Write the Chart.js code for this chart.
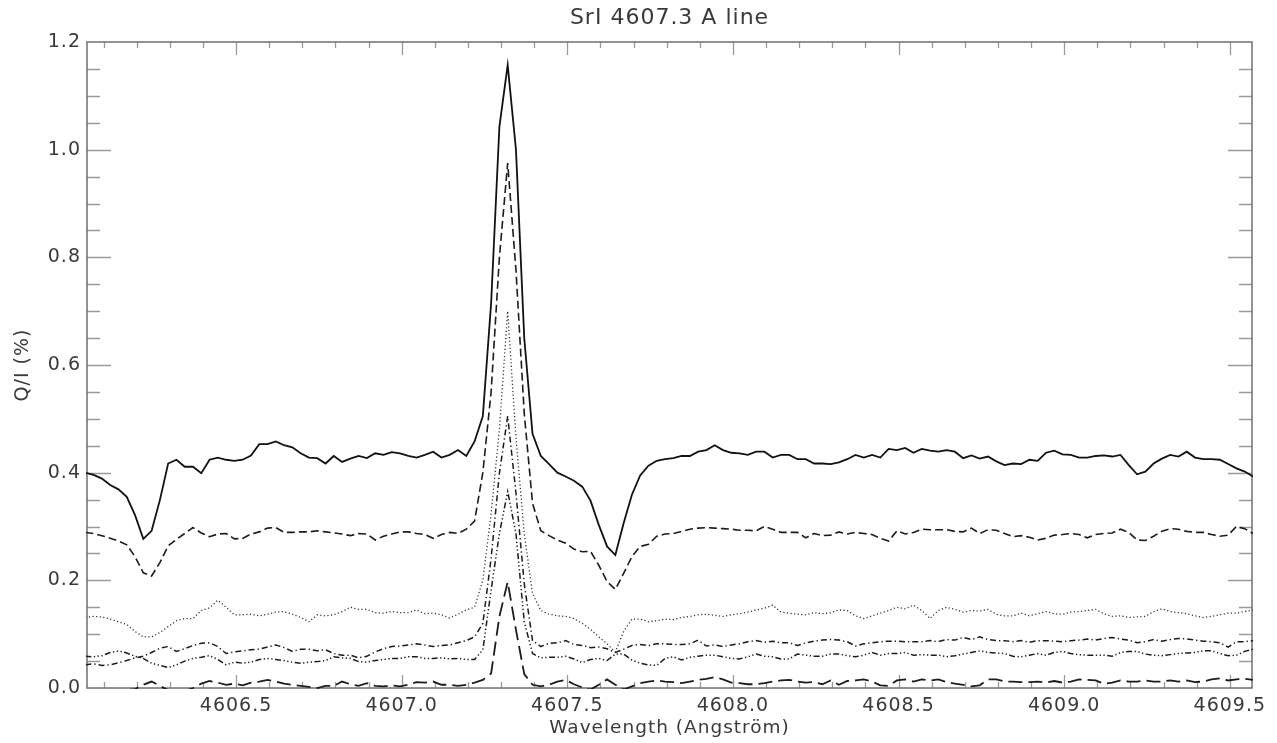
<!DOCTYPE html>
<html>
<head>
<meta charset="utf-8">
<title>SrI 4607.3 A line</title>
<script src="https://cdn.jsdelivr.net/npm/chart.js@4.4.1/dist/chart.umd.min.js"></script>
<style>
  html, body { margin: 0; padding: 0; background: #fff; }
  #wrap { width: 1277px; height: 743px; }
</style>
</head>
<body>
<div id="wrap"><canvas id="srChart" width="1277" height="743"></canvas></div>
<script>
// Wavelength samples (Angstrom)
const wavelength = [
  4606.045, 4606.070, 4606.095, 4606.120, 4606.145, 4606.170, 4606.195, 4606.220, 4606.245, 4606.270,
  4606.295, 4606.320, 4606.345, 4606.370, 4606.395, 4606.420, 4606.445, 4606.470, 4606.495, 4606.520,
  4606.545, 4606.570, 4606.595, 4606.620, 4606.645, 4606.670, 4606.695, 4606.720, 4606.745, 4606.770,
  4606.795, 4606.820, 4606.845, 4606.870, 4606.895, 4606.920, 4606.945, 4606.970, 4606.995, 4607.020,
  4607.045, 4607.070, 4607.095, 4607.120, 4607.145, 4607.170, 4607.195, 4607.220, 4607.245, 4607.270,
  4607.295, 4607.320, 4607.345, 4607.370, 4607.395, 4607.420, 4607.445, 4607.470, 4607.495, 4607.520,
  4607.545, 4607.570, 4607.595, 4607.620, 4607.645, 4607.670, 4607.695, 4607.720, 4607.745, 4607.770,
  4607.795, 4607.820, 4607.845, 4607.870, 4607.895, 4607.920, 4607.945, 4607.970, 4607.995, 4608.020,
  4608.045, 4608.070, 4608.095, 4608.120, 4608.145, 4608.170, 4608.195, 4608.220, 4608.245, 4608.270,
  4608.295, 4608.320, 4608.345, 4608.370, 4608.395, 4608.420, 4608.445, 4608.470, 4608.495, 4608.520,
  4608.545, 4608.570, 4608.595, 4608.620, 4608.645, 4608.670, 4608.695, 4608.720, 4608.745, 4608.770,
  4608.795, 4608.820, 4608.845, 4608.870, 4608.895, 4608.920, 4608.945, 4608.970, 4608.995, 4609.020,
  4609.045, 4609.070, 4609.095, 4609.120, 4609.145, 4609.170, 4609.195, 4609.220, 4609.245, 4609.270,
  4609.295, 4609.320, 4609.345, 4609.370, 4609.395, 4609.420, 4609.445, 4609.470, 4609.495, 4609.520,
  4609.545, 4609.570
];

// Q/I (%) profiles, one per observation
const qSolid = [
  0.400, 0.396, 0.389, 0.377, 0.369, 0.355, 0.321, 0.277, 0.292, 0.349,
  0.417, 0.424, 0.411, 0.411, 0.399, 0.424, 0.428, 0.424, 0.422, 0.424,
  0.432, 0.453, 0.453, 0.458, 0.451, 0.447, 0.436, 0.428, 0.427, 0.417,
  0.431, 0.420, 0.426, 0.431, 0.427, 0.436, 0.433, 0.438, 0.436, 0.431,
  0.428, 0.433, 0.439, 0.428, 0.433, 0.442, 0.431, 0.458, 0.505, 0.715,
  1.043, 1.157, 1.000, 0.650, 0.472, 0.431, 0.416, 0.400, 0.393, 0.385,
  0.374, 0.348, 0.303, 0.263, 0.247, 0.306, 0.359, 0.395, 0.413, 0.422,
  0.425, 0.427, 0.431, 0.431, 0.439, 0.442, 0.451, 0.442, 0.437, 0.436,
  0.433, 0.439, 0.439, 0.428, 0.433, 0.433, 0.425, 0.425, 0.417, 0.417,
  0.416, 0.419, 0.425, 0.433, 0.428, 0.433, 0.428, 0.444, 0.442, 0.446,
  0.437, 0.444, 0.441, 0.439, 0.442, 0.439, 0.427, 0.432, 0.426, 0.430,
  0.421, 0.414, 0.417, 0.416, 0.424, 0.422, 0.437, 0.441, 0.434, 0.433,
  0.428, 0.428, 0.431, 0.432, 0.430, 0.433, 0.414, 0.397, 0.402, 0.417,
  0.426, 0.433, 0.430, 0.439, 0.428, 0.425, 0.425, 0.424, 0.416, 0.408,
  0.402, 0.393
];

const qDashed = [
  0.289, 0.287, 0.283, 0.278, 0.273, 0.266, 0.244, 0.214, 0.208, 0.233,
  0.264, 0.276, 0.287, 0.298, 0.288, 0.281, 0.286, 0.287, 0.277, 0.278,
  0.286, 0.290, 0.297, 0.298, 0.289, 0.289, 0.290, 0.290, 0.292, 0.290,
  0.288, 0.286, 0.283, 0.287, 0.286, 0.275, 0.282, 0.286, 0.290, 0.290,
  0.287, 0.285, 0.278, 0.285, 0.289, 0.287, 0.295, 0.310, 0.400, 0.550,
  0.800, 0.975, 0.776, 0.510, 0.343, 0.292, 0.283, 0.275, 0.269, 0.258,
  0.253, 0.254, 0.228, 0.198, 0.183, 0.213, 0.244, 0.263, 0.267, 0.282,
  0.286, 0.287, 0.291, 0.295, 0.297, 0.298, 0.297, 0.296, 0.295, 0.293,
  0.293, 0.292, 0.300, 0.295, 0.289, 0.289, 0.289, 0.279, 0.287, 0.283,
  0.284, 0.290, 0.286, 0.289, 0.287, 0.285, 0.278, 0.273, 0.292, 0.286,
  0.289, 0.295, 0.294, 0.294, 0.294, 0.291, 0.290, 0.297, 0.287, 0.294,
  0.293, 0.287, 0.281, 0.283, 0.280, 0.275, 0.278, 0.284, 0.285, 0.287,
  0.285, 0.279, 0.285, 0.287, 0.288, 0.295, 0.289, 0.275, 0.274, 0.282,
  0.291, 0.296, 0.295, 0.291, 0.289, 0.289, 0.285, 0.282, 0.284, 0.300,
  0.296, 0.287
];

const qDotted = [
  0.131, 0.133, 0.132, 0.128, 0.123, 0.118, 0.105, 0.095, 0.095, 0.103,
  0.114, 0.125, 0.129, 0.129, 0.144, 0.149, 0.163, 0.150, 0.136, 0.136,
  0.137, 0.134, 0.137, 0.141, 0.142, 0.137, 0.131, 0.123, 0.136, 0.134,
  0.136, 0.142, 0.150, 0.146, 0.146, 0.140, 0.139, 0.142, 0.140, 0.140,
  0.145, 0.138, 0.139, 0.136, 0.130, 0.137, 0.145, 0.150, 0.200, 0.324,
  0.480, 0.700, 0.465, 0.287, 0.175, 0.144, 0.137, 0.134, 0.133, 0.129,
  0.120, 0.109, 0.095, 0.082, 0.067, 0.105, 0.128, 0.128, 0.123, 0.125,
  0.128, 0.127, 0.131, 0.133, 0.136, 0.137, 0.135, 0.133, 0.136, 0.138,
  0.141, 0.145, 0.148, 0.154, 0.141, 0.139, 0.137, 0.136, 0.140, 0.138,
  0.140, 0.145, 0.144, 0.134, 0.129, 0.134, 0.139, 0.144, 0.150, 0.147,
  0.154, 0.144, 0.129, 0.144, 0.150, 0.146, 0.141, 0.144, 0.143, 0.146,
  0.137, 0.134, 0.134, 0.139, 0.134, 0.138, 0.142, 0.138, 0.137, 0.141,
  0.142, 0.144, 0.146, 0.138, 0.133, 0.134, 0.131, 0.132, 0.133, 0.142,
  0.147, 0.142, 0.140, 0.138, 0.134, 0.131, 0.133, 0.136, 0.139, 0.139,
  0.142, 0.145
];

const qDashDot = [
  0.043, 0.045, 0.042, 0.043, 0.047, 0.051, 0.056, 0.059, 0.066, 0.074,
  0.077, 0.068, 0.073, 0.079, 0.083, 0.084, 0.077, 0.064, 0.067, 0.069,
  0.071, 0.072, 0.076, 0.080, 0.075, 0.068, 0.072, 0.072, 0.069, 0.071,
  0.064, 0.061, 0.061, 0.056, 0.059, 0.067, 0.073, 0.077, 0.078, 0.080,
  0.082, 0.080, 0.077, 0.079, 0.080, 0.084, 0.088, 0.095, 0.120, 0.241,
  0.399, 0.505, 0.362, 0.194, 0.088, 0.077, 0.083, 0.084, 0.088, 0.081,
  0.079, 0.075, 0.076, 0.073, 0.066, 0.072, 0.079, 0.081, 0.079, 0.082,
  0.082, 0.081, 0.081, 0.082, 0.089, 0.078, 0.080, 0.077, 0.080, 0.082,
  0.086, 0.088, 0.085, 0.087, 0.084, 0.084, 0.079, 0.084, 0.087, 0.089,
  0.090, 0.089, 0.086, 0.078, 0.082, 0.084, 0.086, 0.087, 0.087, 0.086,
  0.086, 0.086, 0.088, 0.086, 0.090, 0.089, 0.094, 0.090, 0.095, 0.090,
  0.088, 0.088, 0.086, 0.088, 0.085, 0.088, 0.088, 0.087, 0.086, 0.088,
  0.089, 0.091, 0.089, 0.092, 0.094, 0.091, 0.089, 0.084, 0.086, 0.090,
  0.087, 0.090, 0.092, 0.091, 0.089, 0.087, 0.086, 0.084, 0.076, 0.086,
  0.086, 0.088
];

const qDashDot3 = [
  0.059, 0.058, 0.060, 0.066, 0.069, 0.065, 0.059, 0.055, 0.046, 0.042,
  0.038, 0.043, 0.050, 0.055, 0.057, 0.060, 0.053, 0.043, 0.048, 0.046,
  0.048, 0.053, 0.055, 0.053, 0.051, 0.048, 0.046, 0.048, 0.049, 0.051,
  0.058, 0.056, 0.055, 0.049, 0.048, 0.051, 0.053, 0.055, 0.055, 0.058,
  0.058, 0.055, 0.055, 0.056, 0.054, 0.055, 0.053, 0.053, 0.071, 0.182,
  0.287, 0.365, 0.287, 0.123, 0.064, 0.056, 0.057, 0.057, 0.059, 0.054,
  0.047, 0.053, 0.055, 0.051, 0.063, 0.063, 0.052, 0.046, 0.043, 0.042,
  0.055, 0.058, 0.052, 0.057, 0.059, 0.061, 0.061, 0.058, 0.055, 0.054,
  0.058, 0.063, 0.059, 0.058, 0.054, 0.054, 0.063, 0.061, 0.059, 0.059,
  0.063, 0.063, 0.060, 0.058, 0.061, 0.066, 0.061, 0.064, 0.064, 0.066,
  0.061, 0.062, 0.061, 0.061, 0.058, 0.060, 0.063, 0.066, 0.069, 0.066,
  0.065, 0.064, 0.059, 0.058, 0.061, 0.064, 0.061, 0.066, 0.068, 0.064,
  0.062, 0.061, 0.061, 0.061, 0.059, 0.066, 0.068, 0.068, 0.063, 0.061,
  0.060, 0.062, 0.064, 0.065, 0.066, 0.069, 0.069, 0.064, 0.060, 0.061,
  0.068, 0.072
];

const qLongDash = [
  -0.008, -0.010, -0.008, -0.010, -0.006, -0.004, -0.002, 0.006, 0.012, 0.004,
  -0.004, -0.008, -0.006, 0.000, 0.008, 0.013, 0.010, 0.006, 0.008, 0.005,
  0.010, 0.012, 0.015, 0.012, 0.008, 0.006, 0.004, 0.002, 0.000, 0.004,
  0.004, 0.012, 0.007, 0.004, 0.009, 0.004, 0.003, 0.005, 0.003, 0.006,
  0.011, 0.010, 0.012, 0.006, 0.006, 0.004, 0.006, 0.010, 0.015, 0.027,
  0.133, 0.197, 0.108, 0.026, 0.006, 0.003, 0.006, 0.012, 0.015, 0.007,
  0.001, -0.003, 0.006, 0.016, 0.006, -0.003, 0.003, 0.009, 0.012, 0.014,
  0.012, 0.011, 0.009, 0.012, 0.015, 0.017, 0.020, 0.016, 0.010, 0.009,
  0.007, 0.007, 0.009, 0.012, 0.014, 0.015, 0.012, 0.010, 0.011, 0.007,
  0.014, 0.006, 0.013, 0.014, 0.016, 0.012, 0.005, 0.004, 0.014, 0.016,
  0.012, 0.016, 0.014, 0.016, 0.011, 0.008, 0.006, 0.003, 0.005, 0.016,
  0.016, 0.012, 0.012, 0.011, 0.011, 0.012, 0.010, 0.013, 0.010, 0.012,
  0.016, 0.015, 0.014, 0.008, 0.010, 0.014, 0.012, 0.012, 0.014, 0.012,
  0.012, 0.014, 0.012, 0.014, 0.011, 0.012, 0.016, 0.018, 0.014, 0.016,
  0.017, 0.015
];

const wlMin = 4606.05;
const wlMax = 4609.567;

const inkColor = '#3a3a3a';
const frameColor = '#707070';
const tickColor = '#9a9a9a';
const fontFamily = "'DejaVu Sans', sans-serif";

// line style for each profile, in plotting order
const profiles = [
  { values: qSolid,    dash: [],                                   width: 1.8, color: '#111' },
  { values: qDashed,   dash: [8, 4],                               width: 1.6, color: '#1c1c1c' },
  { values: qDotted,   dash: [1.2, 2.4],                           width: 1.3, color: '#333' },
  { values: qDashDot,  dash: [6, 3, 1.3, 3],                       width: 1.5, color: '#1c1c1c' },
  { values: qDashDot3, dash: [6, 2.5, 1.3, 2.5, 1.3, 2.5, 1.3, 2.5], width: 1.5, color: '#1c1c1c' },
  { values: qLongDash, dash: [14, 6],                              width: 1.8, color: '#1c1c1c' }
];

// wider glyph spacing for all canvas text
const spacedText = {
  id: 'spacedText',
  beforeDraw(chart) {
    chart.ctx.letterSpacing = '1px';
  }
};

// IDL-style box: frame plus inward ticks on all four sides
const boxAxes = {
  id: 'boxAxes',
  beforeDatasetsDraw(chart) {
    const { ctx, chartArea: a, scales: { x, y } } = chart;
    ctx.save();
    ctx.strokeStyle = tickColor;
    ctx.lineWidth = 1.3;
    const first = Math.ceil(x.min * 10 - 1e-6);
    const last = Math.floor(x.max * 10 + 1e-6);
    for (let i = first; i <= last; i++) {
      const px = Math.round(x.getPixelForValue(i / 10)) + 0.5;
      const len = i % 5 === 0 ? 13 : 6;
      ctx.beginPath();
      ctx.moveTo(px, a.bottom);
      ctx.lineTo(px, a.bottom - len);
      ctx.moveTo(px, a.top);
      ctx.lineTo(px, a.top + len);
      ctx.stroke();
    }
    for (let j = 1; j < 24; j++) {
      const py = Math.round(y.getPixelForValue(j * 0.05)) + 0.5;
      const len = j % 4 === 0 ? 24 : 13;
      ctx.beginPath();
      ctx.moveTo(a.left, py);
      ctx.lineTo(a.left + len, py);
      ctx.moveTo(a.right, py);
      ctx.lineTo(a.right - len, py);
      ctx.stroke();
    }
    ctx.strokeStyle = frameColor;
    ctx.lineWidth = 1.5;
    ctx.strokeRect(a.left, a.top, a.right - a.left, a.bottom - a.top);
    ctx.restore();
  }
};

Chart.defaults.font.family = fontFamily;
Chart.defaults.color = inkColor;

new Chart(document.getElementById('srChart'), {
  type: 'line',
  data: {
    datasets: profiles.map(p => ({
      data: wavelength.map((w, i) => ({ x: w, y: p.values[i] })),
      borderColor: p.color,
      borderWidth: p.width,
      borderDash: p.dash,
      pointRadius: 0,
      tension: 0,
      fill: false,
      clip: 1
    }))
  },
  options: {
    responsive: false,
    animation: false,
    devicePixelRatio: 1,
    events: [],
    layout: { padding: { left: 0, right: 25, top: 0, bottom: 0 } },
    plugins: {
      legend: { display: false },
      tooltip: { enabled: false },
      title: {
        display: true,
        text: 'SrI 4607.3 A line',
        fullSize: false,
        color: inkColor,
        font: { size: 22, weight: 'normal', lineHeight: 1.2 },
        padding: { top: 5, bottom: 10.6 }
      }
    },
    scales: {
      x: {
        type: 'linear',
        min: wlMin,
        max: wlMax,
        grid: { display: false, drawTicks: false },
        border: { display: false },
        ticks: {
          stepSize: 0.5,
          includeBounds: false,
          autoSkip: false,
          maxRotation: 0,
          padding: 7,
          color: inkColor,
          font: { size: 19 },
          callback: v => v.toFixed(1)
        },
        title: {
          display: true,
          text: 'Wavelength (Angström)',
          color: inkColor,
          font: { size: 18.5, lineHeight: 1.2 },
          padding: { top: 0, bottom: 4 }
        },
        afterFit: s => { s.height = 55; }
      },
      y: {
        min: 0,
        max: 1.2,
        grid: { display: false, drawTicks: false },
        border: { display: false },
        ticks: {
          stepSize: 0.2,
          padding: 6,
          color: inkColor,
          font: { size: 19 },
          callback: v => v.toFixed(1)
        },
        title: {
          display: true,
          text: 'Q/I (%)',
          color: inkColor,
          font: { size: 19, lineHeight: 1.2 },
          padding: { top: 12, bottom: 0 }
        },
        afterFit: s => { s.width = 87; }
      }
    }
  },
  plugins: [spacedText, boxAxes]
});
</script>
</body>
</html>
